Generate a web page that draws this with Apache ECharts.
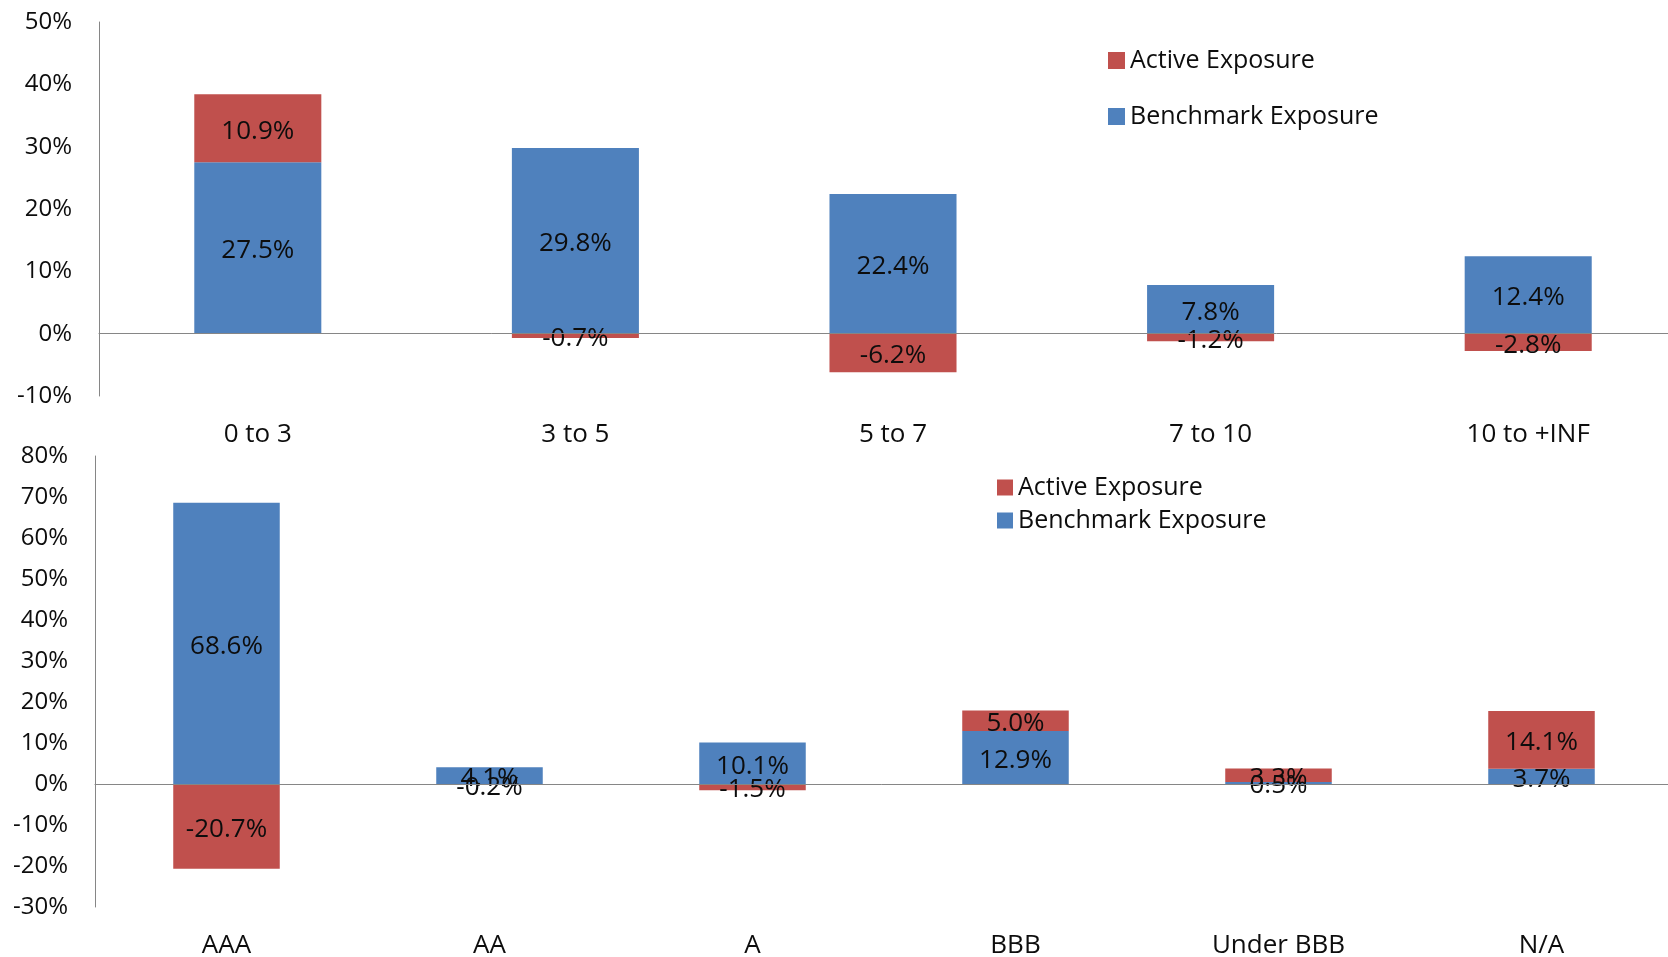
<!DOCTYPE html>
<html>
<head>
<meta charset="utf-8">
<title>Exposure by Maturity and Rating</title>
<script src="https://cdn.jsdelivr.net/npm/echarts@6/dist/echarts.min.js"></script>
<style>
  html, body { margin: 0; padding: 0; background: #ffffff; }
  #chart { width: 1668px; height: 957px; }
</style>
</head>
<body>
<div id="chart"></div>
<script>
// Maturity buckets (years)
const maturityCategories = ['0 to 3', '3 to 5', '5 to 7', '7 to 10', '10 to +INF'];
const maturityBenchmark = [27.5, 29.8, 22.4, 7.8, 12.4];
const maturityActive = [10.9, -0.7, -6.2, -1.2, -2.8];

// Credit rating buckets
const ratingCategories = ['AAA', 'AA', 'A', 'BBB', 'Under BBB', 'N/A'];
const ratingBenchmark = [68.6, 4.1, 10.1, 12.9, 0.5, 3.7];
const ratingActive = [-20.7, -0.2, -1.5, 5.0, 3.3, 14.1];

// Y-axis ranges (percent)
const maturityAxis = { min: -10, max: 50, interval: 10 };
const ratingAxis = { min: -30, max: 80, interval: 10 };

const ACTIVE = 'Active Exposure';
const BENCH = 'Benchmark Exposure';
const RED = '#C0504D';
const BLUE = '#4F81BD';
const AXIS_GRAY = '#868686';
const TEXT = '#0d0d0d';
const FONT = '"Open Sans", Lato, sans-serif';
const TICK_SIZE = 24;
const LABEL_SIZE = 26;
const LEGEND_SIZE = 25;

const pct = v => v.toFixed(1) + '%';

function barSeries(name, data, color, axisIdx, stack, width) {
  return {
    name: name,
    type: 'bar',
    stack: stack,
    xAxisIndex: axisIdx,
    yAxisIndex: axisIdx / 2,
    data: data,
    barWidth: width,
    itemStyle: { color: color },
    label: {
      show: true,
      position: 'inside',
      offset: [0, 3],
      color: TEXT,
      fontFamily: FONT,
      fontSize: LABEL_SIZE,
      formatter: p => pct(p.value)
    },
    emphasis: { disabled: true }
  };
}

function labelAxis(cats, gridIndex) {
  return {
    type: 'category',
    gridIndex: gridIndex,
    data: cats,
    position: 'bottom',
    axisLine: { show: false, onZero: false },
    axisTick: { show: false },
    axisLabel: { color: TEXT, fontFamily: FONT, fontSize: LABEL_SIZE, margin: 26 }
  };
}

function zeroAxis(cats, gridIndex) {
  return {
    type: 'category',
    gridIndex: gridIndex,
    data: cats,
    position: 'bottom',
    axisLine: { show: true, onZero: true, lineStyle: { color: AXIS_GRAY, width: 1 } },
    axisTick: { show: false },
    axisLabel: { show: false },
    z: 5
  };
}

function valueAxis(range, gridIndex) {
  return {
    type: 'value',
    gridIndex: gridIndex,
    min: range.min,
    max: range.max,
    interval: range.interval,
    axisLine: { show: true, onZero: false, lineStyle: { color: AXIS_GRAY, width: 1 } },
    axisTick: { show: false },
    splitLine: { show: false },
    axisLabel: {
      color: TEXT,
      fontFamily: FONT,
      fontSize: TICK_SIZE,
      margin: 27,
      formatter: '{value}%'
    }
  };
}

const chart = echarts.init(document.getElementById('chart'), null, { renderer: 'canvas' });

chart.setOption({
  animation: false,
  backgroundColor: '#ffffff',
  grid: [
    { left: 99, top: 22, width: 1588, height: 374, outerBoundsMode: 'none', containLabel: false },
    { left: 95, top: 456, width: 1578, height: 451, outerBoundsMode: 'none', containLabel: false }
  ],
  legend: [
    {
      data: [ACTIVE, BENCH],
      orient: 'vertical',
      left: 1103,
      top: 43,
      itemWidth: 17,
      itemHeight: 17,
      itemGap: 31,
      icon: 'rect',
      selectedMode: false,
      textStyle: { color: TEXT, fontFamily: FONT, fontSize: LEGEND_SIZE }
    },
    {
      data: [ACTIVE, BENCH],
      orient: 'vertical',
      left: 992,
      top: 470,
      itemWidth: 16,
      itemHeight: 16,
      itemGap: 8,
      icon: 'rect',
      selectedMode: false,
      textStyle: { color: TEXT, fontFamily: FONT, fontSize: LEGEND_SIZE }
    }
  ],
  xAxis: [
    labelAxis(maturityCategories, 0),
    zeroAxis(maturityCategories, 0),
    labelAxis(ratingCategories, 1),
    zeroAxis(ratingCategories, 1)
  ],
  yAxis: [
    valueAxis(maturityAxis, 0),
    valueAxis(ratingAxis, 1)
  ],
  series: [
    barSeries(BENCH, maturityBenchmark, BLUE, 0, 'maturity', '40%'),
    barSeries(ACTIVE, maturityActive, RED, 0, 'maturity', '40%'),
    barSeries(BENCH, ratingBenchmark, BLUE, 2, 'rating', '40.5%'),
    barSeries(ACTIVE, ratingActive, RED, 2, 'rating', '40.5%')
  ]
});
</script>
</body>
</html>
